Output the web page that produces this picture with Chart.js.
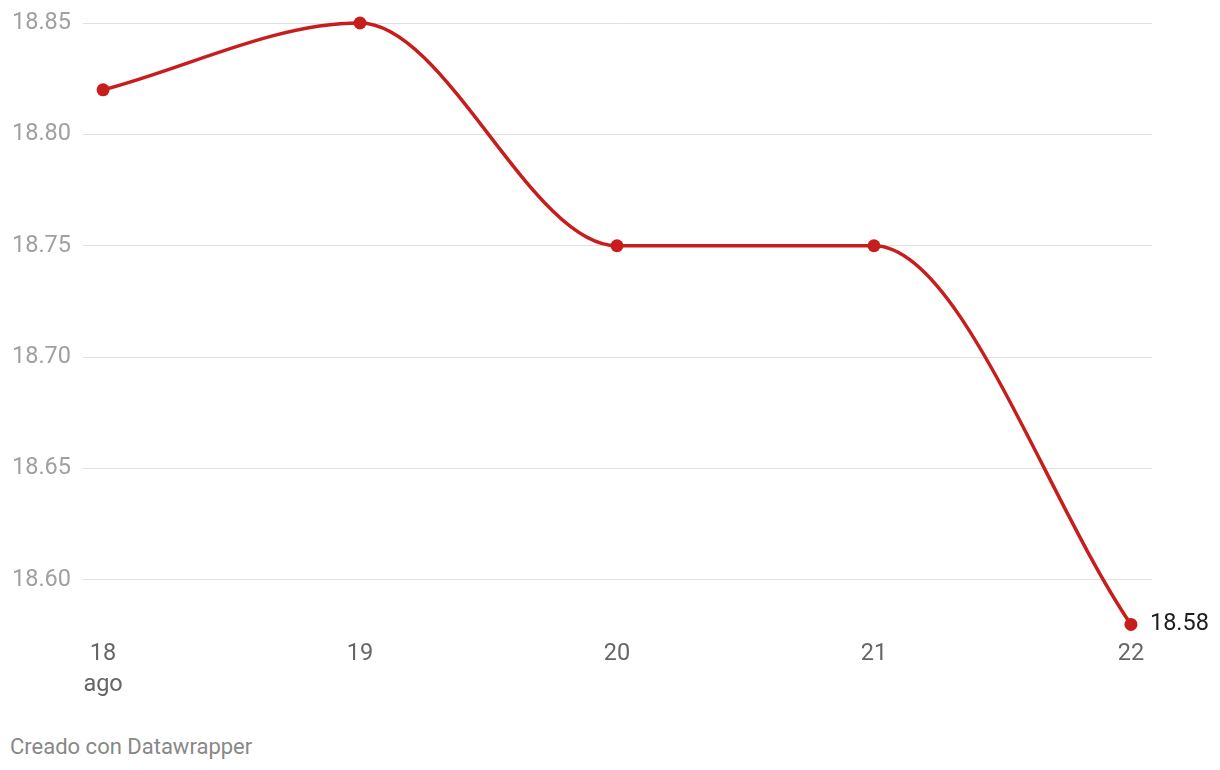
<!DOCTYPE html>
<html lang="es">
<head>
    <meta charset="UTF-8">
    <script src="https://cdn.jsdelivr.net/npm/chart.js"></script>
    <style>
        body { margin: 0; background: #fff; font-family: Roboto, sans-serif; }
        #wrap { width: 1220px; height: 710px; position: relative; }
        #credit { position: absolute; left: 10px; top: 734px; font-size: 22px; color: #888; }
    </style>
</head>
<body>
    <div id="wrap"><canvas id="chart"></canvas></div>
    <div id="credit">Creado con Datawrapper</div>

    <script>
        var days = [18, 19, 20, 21, 22];
        var values = [18.82, 18.85, 18.75, 18.75, 18.58];
        var yTicks = [18.60, 18.65, 18.70, 18.75, 18.80, 18.85];
        var monthLabel = 'ago';

        var red = '#c71e1d';

        // etiqueta del ultimo valor a la derecha del punto
        var lastLabel = {
            id: 'lastLabel',
            afterDatasetsDraw: function (chart) {
                var meta = chart.getDatasetMeta(0);
                var pt = meta.data[meta.data.length - 1];
                var ctx = chart.ctx;
                ctx.save();
                ctx.font = '23.5px Roboto';
                ctx.fillStyle = '#1d1d1d';
                ctx.textBaseline = 'middle';
                ctx.fillText(values[values.length - 1].toFixed(2), pt.x + 19, pt.y);
                ctx.restore();
            }
        };

        new Chart(document.getElementById('chart'), {
            type: 'line',
            data: {
                datasets: [{
                    data: days.map((d, i) => ({ x: d, y: values[i] })),
                    borderColor: red,
                    backgroundColor: red,
                    borderWidth: 3.5,
                    pointRadius: 6.5,
                    pointHoverRadius: 6.5,
                    pointBorderWidth: 0,
                    cubicInterpolationMode: 'monotone',
                    clip: false
                }]
            },
            options: {
                responsive: true,
                maintainAspectRatio: false,
                animation: false,
                layout: { padding: { top: 23, left: 0, right: 68, bottom: 0 } },
                plugins: { legend: { display: false }, tooltip: { enabled: false } },
                scales: {
                    x: {
                        type: 'linear',
                        min: 17.922,
                        max: 22.082,
                        afterBuildTicks: function (scale) {
                            scale.ticks = days.map(d => ({ value: d }));
                        },
                        // las etiquetas no deben empujar el area del grafico
                        afterFit: function (scale) {
                            scale.paddingLeft = 0;
                            scale.paddingRight = 0;
                        },
                        grid: { display: false, drawTicks: false },
                        border: { display: false },
                        ticks: {
                            padding: 10,
                            maxRotation: 0,
                            autoSkip: false,
                            color: '#666',
                            font: { family: 'Roboto', size: 23.5, lineHeight: 1.3 },
                            callback: function (v) {
                                return v === days[0] ? [String(v), monthLabel] : String(v);
                            }
                        }
                    },
                    y: {
                        min: 18.578,
                        max: 18.85,
                        afterBuildTicks: function (scale) {
                            scale.ticks = yTicks.map(v => ({ value: v }));
                        },
                        afterFit: function (scale) {
                            scale.paddingTop = 0;
                            scale.paddingBottom = 0;
                        },
                        grid: { color: '#e0e0e0', lineWidth: 1, drawTicks: false },
                        border: { display: false },
                        ticks: {
                            padding: 12,
                            color: '#a0a0a0',
                            font: { family: 'Roboto', size: 23.5 },
                            callback: function (v) { return v.toFixed(2); }
                        }
                    }
                }
            },
            plugins: [lastLabel]
        });
    </script>
</body>
</html>
